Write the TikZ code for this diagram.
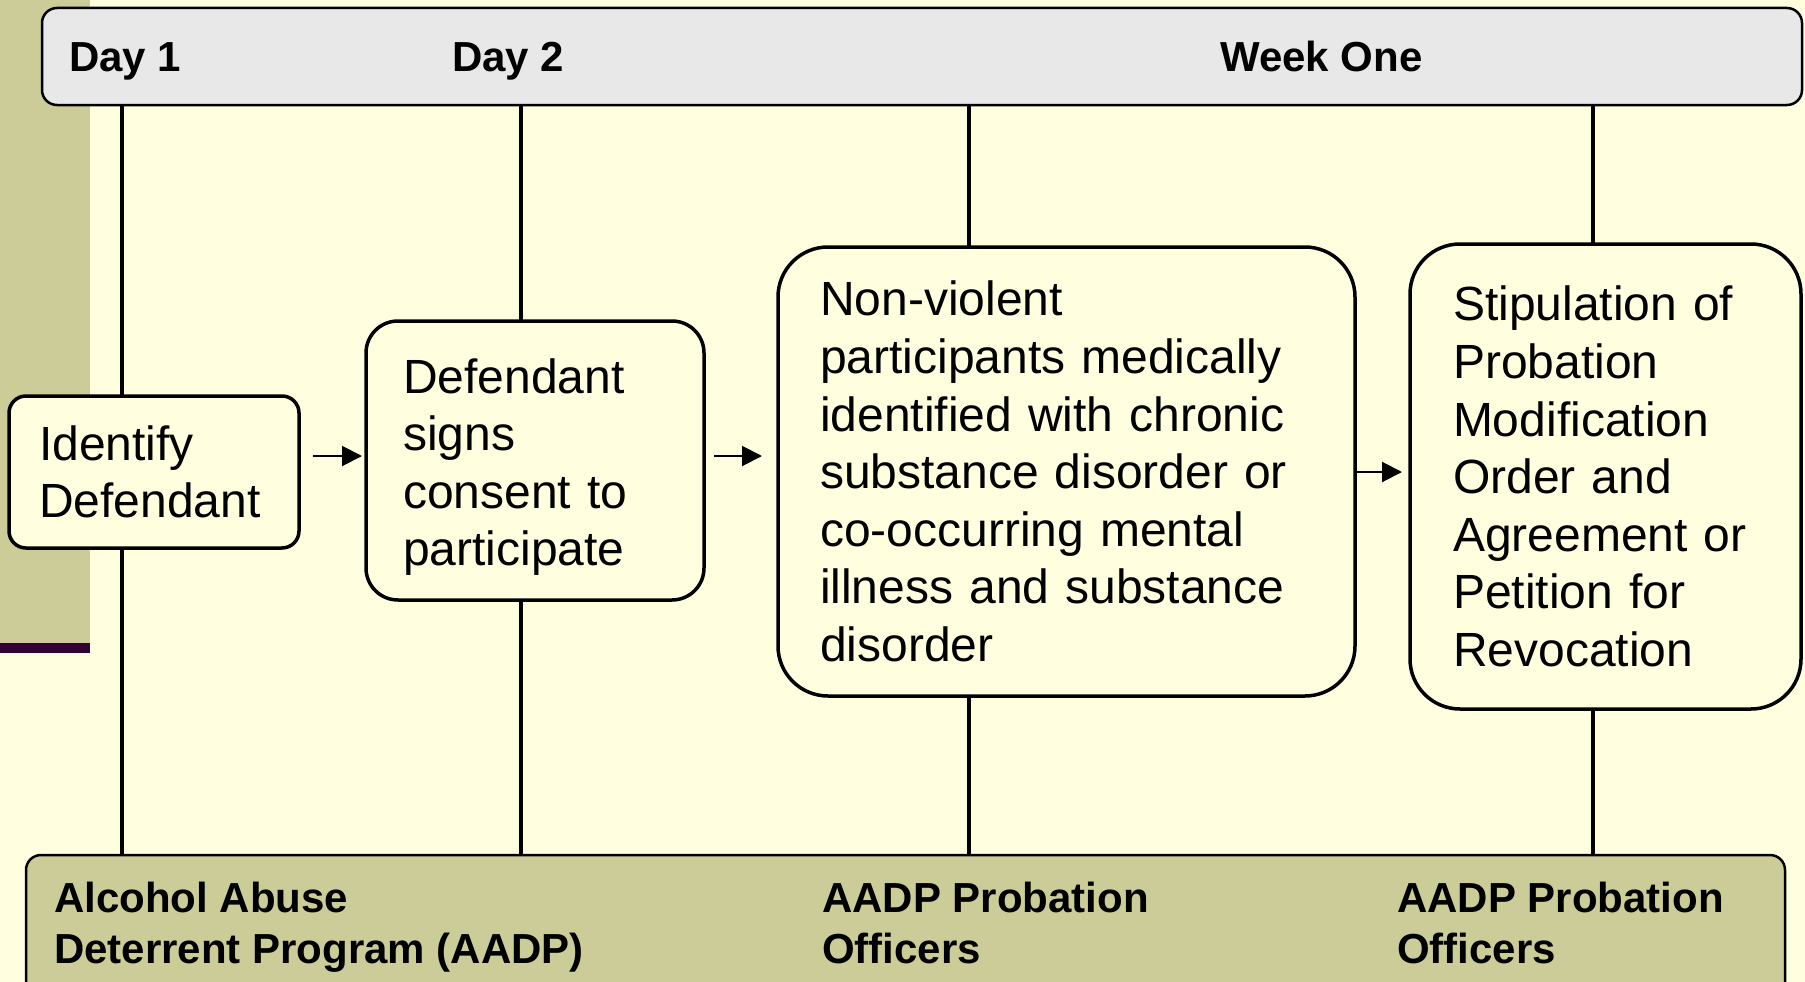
\documentclass[tikz,border=0pt]{standalone}
\usepackage{fontspec}
\setmainfont{Liberation Sans}
\usetikzlibrary{arrows.meta,calc}
\definecolor{bg}{HTML}{FFFFE0}
\definecolor{olivebar}{HTML}{CCCC99}
\definecolor{bargray}{HTML}{E8E8E8}
\definecolor{plum}{HTML}{330033}
\tikzset{
  stepbox/.style={draw=black, line width=3.5pt, fill=bg, align=left, inner ysep=0pt,
    outer sep=0pt, anchor=north west, font=\fontsize{48}{57.6}\selectfont},
  vline/.style={line width=4pt},
  arr/.style={line width=2pt, -{Triangle[length=20pt,width=20pt]}},
  bar/.style={draw=black, line width=2.5pt, rounded corners=15pt, anchor=north west,
    inner sep=0pt, outer sep=0pt},
  head/.style={font=\fontsize{42}{51}\selectfont\bfseries, anchor=base west,
    inner sep=0pt, align=left},
}
\begin{document}
\begin{tikzpicture}[x=1pt,y=-1pt]
\clip (0,0) rectangle (1805,982);
\fill[bg] (0,0) rectangle (1805,982);
\fill[olivebar] (0,0) rectangle (90,643);
\fill[plum] (0,643) rectangle (90,653);

% bars
\node[bar, fill=bargray, minimum width=1760pt, minimum height=97pt] (top) at (42,8) {};
\node[bar, fill=olivebar, minimum width=1759pt, minimum height=170pt] (bot) at (26,855) {};

% boxes
\node[stepbox, rounded corners=17pt, minimum width=290pt, minimum height=152pt,
  text width=230pt, inner xsep=30pt] (b1) at (9,396) {Identify\\Defendant};
\node[stepbox, rounded corners=32pt, minimum width=338pt, minimum height=279pt,
  text width=264pt, inner xsep=37pt] (b2) at (366,321) {\rule{0pt}{48pt}Defendant\\signs\\consent to\\participate};
\node[stepbox, rounded corners=50pt, minimum width=577pt, minimum height=449pt,
  text width=493pt, inner xsep=42pt] (b3) at (778,247)
  {Non-violent\\participants medically\\identified with chronic\\substance disorder or\\co-occurring mental\\illness and substance\\disorder};
\node[stepbox, rounded corners=50pt, minimum width=391pt, minimum height=465pt,
  text width=305pt, inner xsep=43pt] (b4) at (1410,244)
  {Stipulation of\\Probation\\Modification\\Order and\\Agreement or\\Petition for\\Revocation};

% vertical lines
\coordinate (l1) at (122,0);
\coordinate (l2) at (521,0);
\coordinate (l3) at (969,0);
\coordinate (l4) at (1593,0);
\draw[vline] (top.south -| l1) -- (b1.north -| l1);
\draw[vline] (b1.south -| l1) -- (bot.north -| l1);
\draw[vline] (top.south -| l2) -- (b2.north -| l2);
\draw[vline] (b2.south -| l2) -- (bot.north -| l2);
\draw[vline] (top.south -| l3) -- (b3.north -| l3);
\draw[vline] (b3.south -| l3) -- (bot.north -| l3);
\draw[vline] (top.south -| l4) -- (b4.north -| l4);
\draw[vline] (b4.south -| l4) -- (bot.north -| l4);

% arrows
\coordinate (r1) at (0,456);
\coordinate (r2) at (0,472);
\draw[arr] ($(b1.east |- r1)+(14,0)$) -- ($(b2.west |- r1)+(-4,0)$);
\draw[arr] ($(b2.east |- r1)+(10,0)$) -- ($(b3.west |- r1)+(-16,0)$);
\draw[arr] ($(b3.east |- r2)+(1,0)$) -- ($(b4.west |- r2)+(-8,0)$);

% header texts
\node[head] (d1) at (69,72) {Day 1};
\node[head] (d2) at (452,72) {Day 2};
\node[head] (w1) at (1220,72) {Week One};

% footer texts (base anchor = last line's baseline)
\node[head] (f1) at (54,963) {Alcohol Abuse\\Deterrent Program (AADP)};
\node[head] (f2) at (822,963) {AADP Probation\\Officers};
\node[head] (f3) at (1397,963) {AADP Probation\\Officers};
\end{tikzpicture}
\end{document}
